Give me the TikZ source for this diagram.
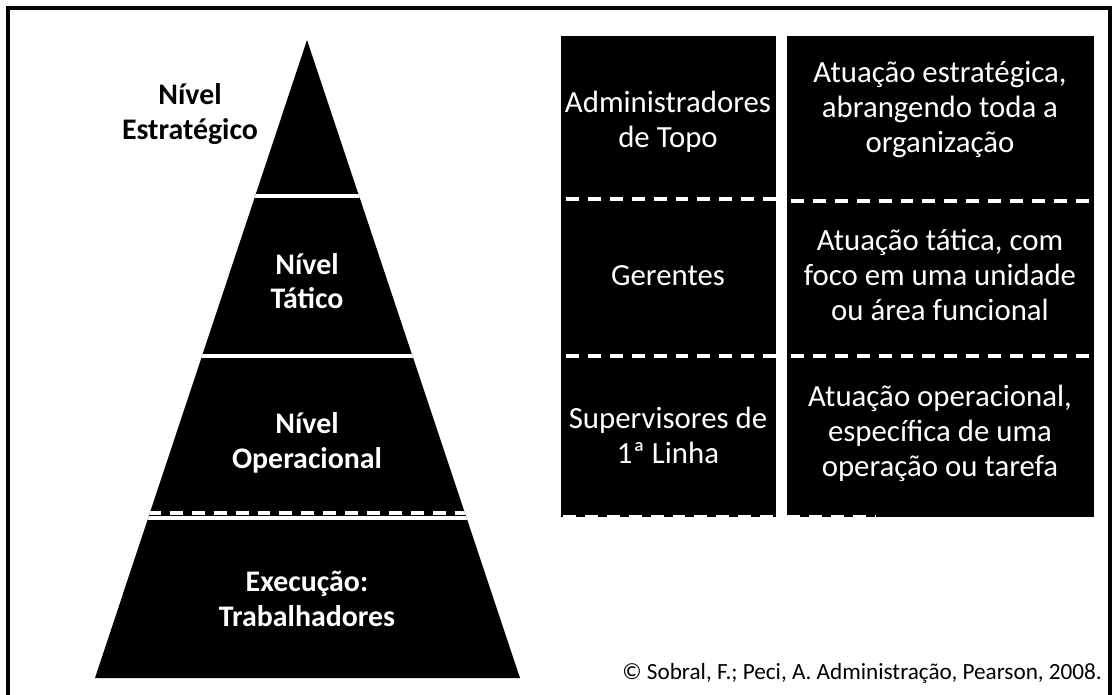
\documentclass[tikz,border=0pt]{standalone}
\usepackage{fontspec}
\setmainfont{Carlito}
\tikzset{
  sep line/.style={white, line width=3.4pt},
  sep dash/.style={white, line width=2.6pt, dash pattern=on 11pt off 7.7pt},
  level text/.style={white, font=\bfseries\fontsize{25.5}{29.5}\selectfont, align=center},
  cell text/.style={white, font=\fontsize{26.3}{29.9}\selectfont, align=center},
}

\begin{document}
\begin{tikzpicture}[x=0.03cm, y=-0.03cm]
\useasboundingbox (0,0) rectangle (1112,694);
\draw[line width=2.6pt] (8,720) -- (8,8) -- (1110,8) -- (1110,720);

% pyramid
\fill[black] (307,40) -- (520,678) -- (95,678) -- cycle;
\begin{scope}
\clip (307,40) -- (520,678) -- (95,678) -- cycle;
\draw[sep line] (90,196) -- (530,196);
\draw[sep line] (90,356) -- (530,356);
\draw[sep line] (90,518) -- (530,518);
\draw[sep dash] (148,513) -- (470,513);
\end{scope}

\node[black, font=\bfseries\fontsize{25.5}{29.5}\selectfont, align=center] (estrategico) at (190,114) {Nível\\Estratégico};
\node[level text] (tatico) at (307,281) {Nível\\Tático};
\node[level text] (operacional) at (307,443) {Nível\\Operacional};
\node[level text] (execucao) at (307,599) {Execução:\\Trabalhadores};

% table
\fill[black] (561,36) rectangle (776,517);
\fill[black] (787,36) rectangle (1094,517);
\draw[sep dash] (566,199) -- (776,199);
\draw[sep dash] (791,201) -- (1094,201);
\draw[sep dash] (566,356) -- (776,356);
\draw[sep dash] (791,356) -- (1094,356);
\draw[sep dash] (563,517) -- (776,517);
\draw[sep dash] (787,517) -- (875,517);

\node[cell text] (topo) at (668,122) {Administradores\\de Topo};
\node[cell text] (gerentes) at (668,276) {Gerentes};
\node[cell text] (supervisores) at (668,435) {Supervisores de\\1ª Linha};
\node[cell text] (atuestrat) at (940,110) {Atuação estratégica,\\abrangendo toda a\\organização};
\node[cell text] (atutatica) at (940,275) {Atuação tática, com\\foco em uma unidade\\ou área funcional};
\node[cell text] (atuoperac) at (940,433) {Atuação operacional,\\específica de uma\\operação ou tarefa};

\node[font=\fontsize{19.8}{22}\selectfont, anchor=east] (fonte) at (1106,673) {© Sobral, F.; Peci, A. Administração, Pearson, 2008.};
\end{tikzpicture}
\end{document}
